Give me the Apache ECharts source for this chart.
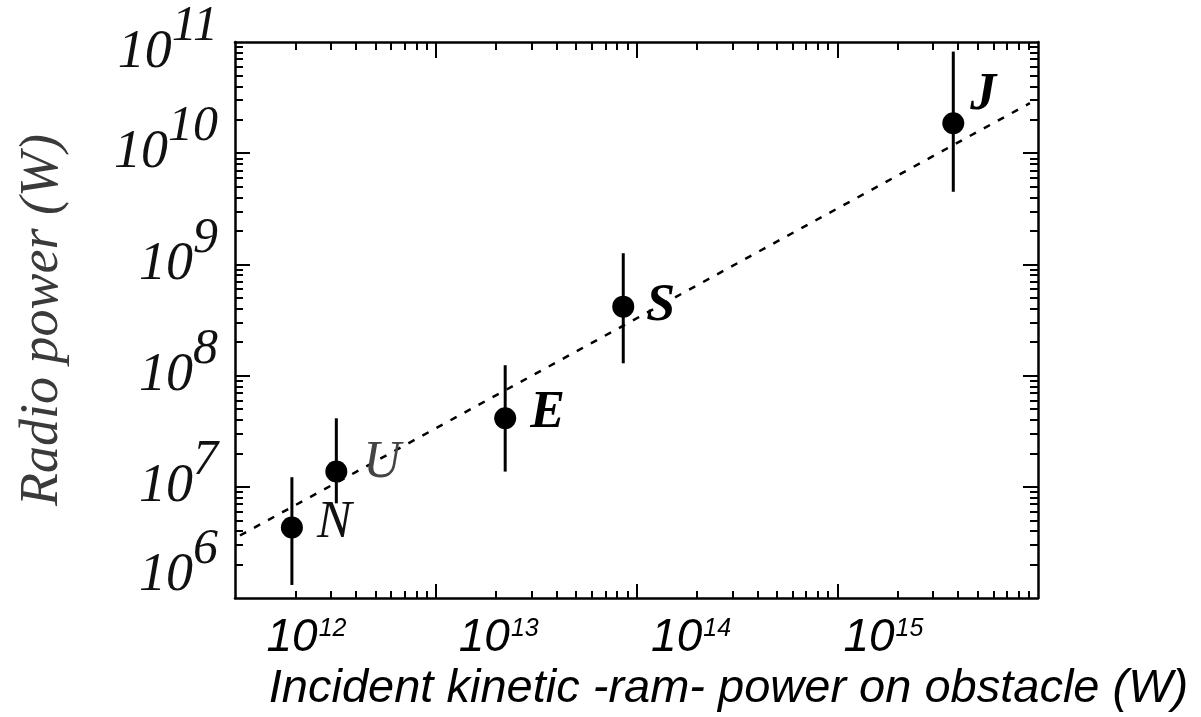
<!DOCTYPE html>
<html>
<head>
<meta charset="utf-8">
<script src="https://cdn.jsdelivr.net/npm/echarts@6/dist/echarts.min.js"></script>
<style>
  html, body { margin: 0; padding: 0; background: #ffffff; }
  #chart { width: 1201px; height: 717px; }
</style>
</head>
<body>
<div id="chart"></div>
<script>
// Planetary radio emission vs. incident solar-wind (ram) power
const planets       = ['N', 'U', 'E', 'S', 'J'];
const incidentPower = [8.4e11, 1.43e12, 1.08e13, 4.44e13, 2.31e15];   // W
const radioPower    = [4.3e6, 1.37e7, 4.13e7, 4.17e8, 1.86e10];       // W
const radioLow      = [1.31e6, 7.1e6, 1.37e7, 1.29e8, 4.5e9];         // W, error bar bottom
const radioHigh     = [1.22e7, 4.13e7, 1.24e8, 1.26e9, 8.2e10];       // W, error bar top

// Power-law fit, end points
const fitIncident = [4.51e11, 5.78e15];
const fitRadio    = [3.65e6, 2.82e10];

// Axis extents and tick labels
const xLabelRange = [4.25e11, 6.37e15];
const xTickLabels = [1e12, 1e13, 1e14, 1e15];
const xFrameRange = [1e11, 1e15];
const xFrameMajor = [1e12, 1e13, 1e14];
const yRange      = [1e6, 1e11];
const yTickLabels = [1e6, 1e7, 1e8, 1e9, 1e10, 1e11];

// 2..9 x 10^n minor ticks for a log frame
function logMinors(lo, hi) {
  const out = [];
  for (let e = Math.round(Math.log10(lo)); e < Math.round(Math.log10(hi)); e++) {
    for (let k = 2; k <= 9; k++) out.push(k * Math.pow(10, e));
  }
  return out;
}

const INK = '#000000';
const serif = '"Liberation Serif", "Times New Roman", serif';
const sans = '"Liberation Sans", Arial, sans-serif';

function exponent(v) { return Math.round(Math.log10(v)); }

// Frame tick axes (no labels)
function xFrame(position, values, len, showLine) {
  return {
    type: 'log', position: position, min: xFrameRange[0], max: xFrameRange[1],
    axisLine: { show: showLine, lineStyle: { color: INK, width: 2.5 } },
    axisTick: { show: true, inside: true, length: len, customValues: values, lineStyle: { color: INK, width: 2 } },
    axisLabel: { show: false }, splitLine: { show: false }
  };
}
function yFrame(position, values, len, showLine) {
  return {
    type: 'log', position: position, min: yRange[0], max: yRange[1],
    axisLine: { show: showLine, lineStyle: { color: INK, width: 2.5 } },
    axisTick: { show: true, inside: true, length: len, customValues: values, lineStyle: { color: INK, width: 2 } },
    axisLabel: { show: false }, splitLine: { show: false }
  };
}

// Label nudges for the planet initials
const initialStyle = {
  N: { offset: [0, -4],  fontWeight: 'normal', color: '#111' },
  U: { offset: [2, -8],  fontWeight: 'normal', color: '#444' },
  E: { offset: [0, -5],  fontWeight: 'bold',   color: '#000' },
  S: { offset: [-2, 0],  fontWeight: 'bold',   color: '#000' },
  J: { offset: [-8, -28], fontWeight: 'bold',  color: '#000' }
};

const points = planets.map((p, i) => ({
  name: p,
  value: [incidentPower[i], radioPower[i]],
  label: initialStyle[p]
}));
const bars = planets.map((p, i) => [incidentPower[i], radioLow[i], radioHigh[i]]);
const fitLine = fitIncident.map((x, i) => [x, fitRadio[i]]);

const yMajorBig = yTickLabels.slice(1, -1);
const yEdgeLabels = [yTickLabels[0], yTickLabels[yTickLabels.length - 1]];
const yLabelInk = '#111';

// Y tick label pieces: base "10" and a raised, nearly full-size exponent
function yRich(padTop, padBase, padSup) {
  return {
    b: { fontFamily: serif, fontStyle: 'italic', fontSize: 54, lineHeight: 20, padding: [padTop, 0, padBase, 0], color: yLabelInk },
    s: { fontFamily: serif, fontStyle: 'italic', fontSize: 50, lineHeight: 20, padding: [padTop, 0, padSup, 0], color: yLabelInk }
  };
}
const yRichMid = yRich(0, 0, 52);
const yRichTop = yRich(22, 0, 52);
const yRichLow = yRich(0, 44, 96);

function yLabelAxis(values, showLine, withName) {
  const axis = {
    type: 'log', position: 'left', min: yRange[0], max: yRange[1],
    axisLine: { show: showLine, lineStyle: { color: INK, width: 2.5 } },
    axisTick: { show: showLine, inside: true, length: 15, customValues: yMajorBig, lineStyle: { color: INK, width: 2 } },
    splitLine: { show: false },
    axisLabel: {
      customValues: values,
      showMinLabel: true,
      showMaxLabel: true,
      margin: 17,
      formatter: v => {
        const e = exponent(v);
        const tag = e === 11 ? 'T' : (e === 6 ? 'L' : '');
        return '{b' + tag + '|10}{s' + tag + '|' + e + '}';
      },
      rich: {
        b: yRichMid.b, s: yRichMid.s,
        bT: yRichTop.b, sT: yRichTop.s,
        bL: yRichLow.b, sL: yRichLow.s
      }
    }
  };
  if (withName) {
    axis.name = 'Radio power (W)';
    axis.nameLocation = 'middle';
    axis.nameGap = 165;
    axis.nameTextStyle = { fontFamily: serif, fontStyle: 'italic', fontSize: 54, color: '#3a3a3a' };
  }
  return axis;
}

const option = {
  backgroundColor: '#ffffff',
  animation: false,
  grid: { left: 235, right: 163, top: 42, bottom: 119, outerBoundsMode: 'none', containLabel: false },
  xAxis: [
    {
      type: 'log', position: 'bottom', min: xLabelRange[0], max: xLabelRange[1],
      axisLine: { show: true, lineStyle: { color: INK, width: 2.5 } },
      axisTick: { show: false },
      splitLine: { show: false },
      axisLabel: {
        customValues: xTickLabels,
        margin: 17,
        formatter: v => '{b|10}{s|' + exponent(v) + '}',
        rich: {
          b: { fontFamily: sans, fontStyle: 'italic', fontSize: 46, lineHeight: 46, color: '#000' },
          s: { fontFamily: sans, fontStyle: 'italic', fontSize: 25, lineHeight: 25, padding: [0, 0, 18, 1], color: '#000' }
        }
      },
      name: 'Incident kinetic -ram- power on obstacle (W)',
      nameLocation: 'middle',
      nameGap: 57,
      nameTextStyle: { fontFamily: sans, fontStyle: 'italic', fontSize: 47, color: '#000', padding: [0, 0, 0, 184] }
    },
    xFrame('bottom', xFrameMajor, 14, false),
    xFrame('bottom', logMinors(xFrameRange[0], xFrameRange[1]), 7, false),
    xFrame('top', xFrameMajor, 16, true),
    xFrame('top', logMinors(xFrameRange[0], xFrameRange[1]), 8, false)
  ],
  yAxis: [
    yLabelAxis(yMajorBig, true, true),
    yLabelAxis(yEdgeLabels, false, false),
    yFrame('left', logMinors(yRange[0], yRange[1]), 8, false),
    yFrame('right', yMajorBig, 15, true),
    yFrame('right', logMinors(yRange[0], yRange[1]), 8, false)
  ],
  series: [
    {
      name: 'fit', type: 'line', xAxisIndex: 0, yAxisIndex: 0,
      data: fitLine, symbol: 'none', silent: true,
      lineStyle: { color: INK, width: 2.5, type: [7, 9] }
    },
    {
      name: 'error', type: 'custom', xAxisIndex: 0, yAxisIndex: 0,
      data: bars, encode: { x: 0, y: [1, 2] },
      renderItem: (params, api) => {
        const lo = api.coord([api.value(0), api.value(1)]);
        const hi = api.coord([api.value(0), api.value(2)]);
        return {
          type: 'line',
          shape: { x1: lo[0], y1: lo[1], x2: hi[0], y2: hi[1] },
          style: { stroke: INK, lineWidth: 3 }
        };
      }
    },
    {
      name: 'planets', type: 'scatter', xAxisIndex: 0, yAxisIndex: 0,
      data: points, symbol: 'circle', symbolSize: 22,
      itemStyle: { color: '#000', opacity: 1 },
      label: {
        show: true, position: 'right', distance: 14,
        formatter: p => p.name,
        fontFamily: serif, fontStyle: 'italic', fontSize: 52
      },
      z: 5
    }
  ]
};

const chart = echarts.init(document.getElementById('chart'), null, { renderer: 'canvas' });
chart.setOption(option);
</script>
</body>
</html>
